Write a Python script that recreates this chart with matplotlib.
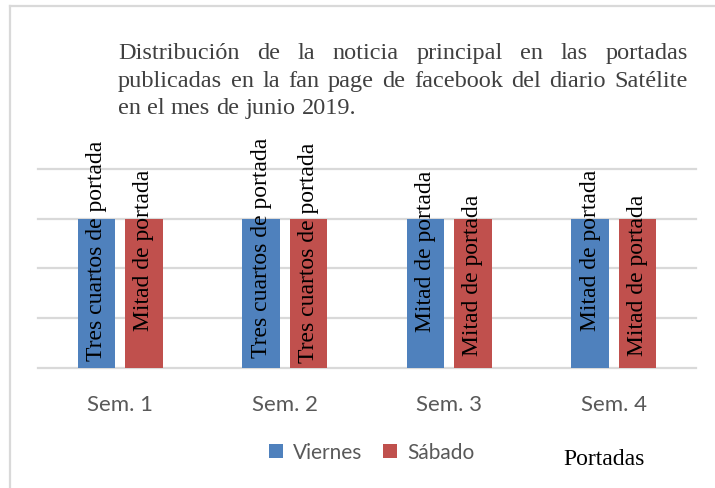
import numpy as np
import matplotlib
matplotlib.use("Agg")
import matplotlib.pyplot as plt
from matplotlib.patches import Patch
from matplotlib.lines import Line2D

semanas = ["Sem. 1", "Sem. 2", "Sem. 3", "Sem. 4"]
viernes = [3, 3, 3, 3]
sabado = [3, 3, 3, 3]
etiq_viernes = ["Tres cuartos de portada", "Tres cuartos de portada",
                "Mitad de portada", "Mitad de portada"]
etiq_sabado = ["Mitad de portada", "Tres cuartos de portada",
               "Mitad de portada", "Mitad de portada"]
titulo = ["Distribución de la noticia principal en las portadas",
          "publicadas en la fan page de facebook del diario Satélite",
          "en el mes de junio 2019."]

# vertical centre of each rotated label (data units)
pos_viernes = [2.37, 2.43, 2.37, 2.39]
pos_sabado = [2.39, 2.33, 1.88, 1.88]

W, H = 715, 489
fig = plt.figure(figsize=(W / 100, H / 100), dpi=100)

# outer frame (left and top edge visible)
fig.add_artist(Line2D([9.5 / W, 9.5 / W], [0, 1 - 6.5 / H], transform=fig.transFigure,
                      color="#d9d9d9", lw=1.6))
fig.add_artist(Line2D([9.5 / W, 1], [1 - 6.5 / H, 1 - 6.5 / H], transform=fig.transFigure,
                      color="#d9d9d9", lw=1.6))

x0, x1 = 38, 696
ybase, ytop = 368.7, 170
ax = fig.add_axes([x0 / W, 1 - ybase / H, (x1 - x0) / W, (ybase - ytop) / H])
ax.set_xlim(-0.5, 3.5)
ax.set_ylim(0, 4)
for s in ax.spines.values():
    s.set_visible(False)
ax.set_yticks([0, 1, 2, 3, 4])
ax.set_yticklabels([])
ax.tick_params(axis="y", length=0)
for yv in [0, 1, 2, 3, 4]:
    ax.axhline(yv, color="#d9d9d9", lw=1.6, zorder=0, clip_on=False)

x = np.arange(len(semanas))
off, w = 0.143, 0.228
ax.bar(x - off, viernes, w, color="#4f81bd", zorder=2, label="Viernes")
ax.bar(x + off, sabado, w, color="#c0504d", zorder=2, label="Sábado")

serif = ["Liberation Serif", "DejaVu Serif"]
for i in range(len(semanas)):
    ax.text(x[i] - off, pos_viernes[i], etiq_viernes[i], rotation=90, ha="center", va="center",
            fontsize=17, family=serif, color="black", zorder=3, clip_on=False)
    ax.text(x[i] + off, pos_sabado[i], etiq_sabado[i], rotation=90, ha="center", va="center",
            fontsize=17, family=serif, color="black", zorder=3, clip_on=False)

ax.set_xticks(x)
ax.set_xticklabels(semanas, fontsize=16, family="Lato", color="#595959")
ax.tick_params(axis="x", length=0, pad=19)

# justified title
renderer = fig.canvas.get_renderer()
left, right = 118, 688
baselines = [59, 87, 114]
for k, line in enumerate(titulo):
    words = line.split(" ")
    arts = [fig.text(0, 1 - baselines[k] / H, wd, fontsize=17.5, family=serif,
                     color="#404040", va="baseline", ha="left") for wd in words]
    widths = [a.get_window_extent(renderer).width for a in arts]
    if k < len(titulo) - 1:
        gap = (right - left - sum(widths)) / (len(words) - 1)
    else:
        sp = fig.text(0, 0, "a a", fontsize=17.5, family=serif)
        sp2 = fig.text(0, 0, "aa", fontsize=17.5, family=serif)
        gap = sp.get_window_extent(renderer).width - sp2.get_window_extent(renderer).width
        sp.remove()
        sp2.remove()
    cx = left
    for a, wd in zip(arts, widths):
        a.set_x(cx / W)
        cx += wd + gap

handles = [Patch(facecolor="#4f81bd"), Patch(facecolor="#c0504d")]
fig.legend(handles, ["Viernes", "Sábado"], loc="center left",
           bbox_to_anchor=(269 / W, 1 - 453 / H), ncol=2, frameon=False,
           borderpad=0, borderaxespad=0,
           handlelength=0.65, handleheight=0.65, handletextpad=0.5, columnspacing=1.0,
           prop={"family": "Lato", "size": 15}, labelcolor="#595959")

fig.text(563 / W, 1 - 465 / H, "Portadas", fontsize=17, family=serif, color="black",
         va="baseline", ha="left")

fig.savefig("out.png", dpi=100)
